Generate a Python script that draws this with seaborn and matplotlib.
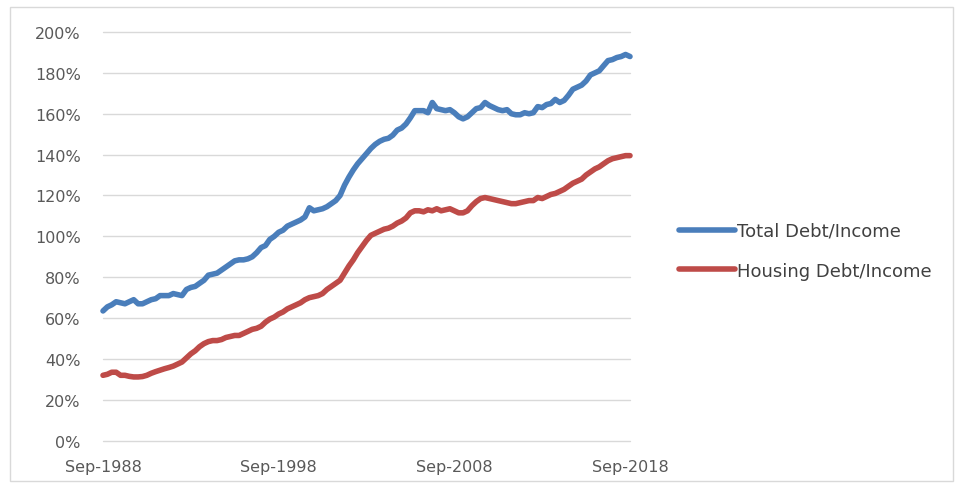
import matplotlib
matplotlib.use("Agg")
import matplotlib.pyplot as plt
from matplotlib.patches import Rectangle
import seaborn as sns
import pandas as pd

# Quarterly ratios, Sep-1988 .. Sep-2018 (percent of income)
total_debt = [
    63.5, 65.5, 66.5, 68,
    67.5, 67, 68, 69,
    67, 67, 68, 69,
    69.5, 71, 71, 71,
    72, 71.5, 71, 74,
    75, 75.5, 77, 78.5,
    81, 81.5, 82, 83.5,
    85, 86.5, 88, 88.5,
    88.5, 89, 90, 92,
    94.5, 95.5, 98.5, 100,
    102, 103, 105, 106,
    107, 108, 109.5, 114,
    112.5, 113, 113.5, 114.5,
    116, 117.5, 120, 125,
    129, 132.5, 135.5, 138,
    140.5, 143, 145, 146.5,
    147.5, 148, 149.5, 152,
    153, 155, 158, 161.5,
    161.5, 161.5, 160.5, 165.5,
    162.5, 162, 161.5, 162,
    160.5, 158.5, 157.5, 158.5,
    160.5, 162.5, 163, 165.5,
    164, 163, 162, 161.5,
    162, 160, 159.5, 159.5,
    160.5, 160, 160.5, 163.5,
    163, 164.5, 165, 167,
    165.5, 166.5, 169, 172,
    173, 174, 176, 179,
    180, 181, 183.5, 186,
    186.5, 187.5, 188, 189,
    188,
]
housing_debt = [
    32, 32.5, 33.5, 33.5,
    32, 32, 31.5, 31.2,
    31.2, 31.4, 32, 33,
    33.8, 34.5, 35.2, 35.8,
    36.5, 37.5, 38.5, 40.5,
    42.5, 44, 46, 47.5,
    48.5, 49, 49, 49.5,
    50.5, 51, 51.5, 51.5,
    52.5, 53.5, 54.5, 55,
    56, 58, 59.5, 60.5,
    62, 63, 64.5, 65.5,
    66.5, 67.5, 69, 70,
    70.5, 71, 72, 74,
    75.5, 77, 78.5, 82,
    85.5, 88.5, 92, 95,
    98, 100.5, 101.5, 102.5,
    103.5, 104, 105, 106.5,
    107.5, 109, 111.5, 112.5,
    112.5, 112, 113, 112.5,
    113.5, 112.5, 113, 113.5,
    112.5, 111.5, 111.5, 112.5,
    115, 117, 118.5, 119,
    118.5, 118, 117.5, 117,
    116.5, 116, 116, 116.5,
    117, 117.5, 117.5, 119,
    118.5, 119.5, 120.5, 121,
    122, 123, 124.5, 126,
    127, 128, 130, 131.5,
    133, 134, 135.5, 137,
    138, 138.5, 139, 139.5,
    139.5,
]
series_names = ["Total Debt/Income", "Housing Debt/Income"]
series_colors = ["#4A7EBB", "#BE4B48"]
x_tick_labels = ["Sep-1988", "Sep-1998", "Sep-2008", "Sep-2018"]
y_ticks = [0, 20, 40, 60, 80, 100, 120, 140, 160, 180, 200]

dates = pd.date_range(start="1988-09-01", periods=len(total_debt), freq="3MS")
df = pd.concat([
    pd.DataFrame({"date": dates, "value": total_debt, "series": series_names[0]}),
    pd.DataFrame({"date": dates, "value": housing_debt, "series": series_names[1]}),
])

sns.set_style("white")
plt.rcParams["font.family"] = ["DejaVu Sans"]

fig = plt.figure(figsize=(9.59, 4.89), dpi=100)
ax = fig.add_axes([103 / 959, 1 - 441.7 / 489, (630 - 103) / 959, (441.7 - 33) / 489])

sns.lineplot(data=df, x="date", y="value", hue="series", hue_order=series_names,
             palette=series_colors, linewidth=4.0, ax=ax, legend=False,
             solid_capstyle="round", zorder=3)
for ln in ax.get_lines():
    ln.set_clip_on(False)

ax.set_ylim(0, 200)
ax.set_xlim(dates[0], dates[-1])
ax.set_yticks(y_ticks)
ax.set_yticklabels([f"{v}%" for v in y_ticks])
tick_dates = pd.to_datetime(["1988-09-01", "1998-09-01", "2008-09-01", "2018-09-01"])
ax.set_xticks(tick_dates)
ax.set_xticklabels(x_tick_labels)
ax.set_xlabel("")
ax.set_ylabel("")
ax.grid(axis="y", color="#D9D9D9", linewidth=1.0)
ax.grid(axis="x", visible=False)
for gl in ax.get_ygridlines():
    gl.set_clip_on(False)
ax.set_axisbelow(True)
for s in ax.spines.values():
    s.set_visible(False)
ax.tick_params(axis="y", length=0, pad=16, labelsize=11.5, labelcolor="#595959")
ax.tick_params(axis="x", length=0, pad=13, labelsize=11.5, labelcolor="#595959")

handles = [plt.Line2D([], [], color=c, linewidth=4.0) for c in series_colors]
fig.legend(handles, series_names, loc="center left",
           bbox_to_anchor=(670 / 959, 1 - 251.7 / 489), frameon=False,
           borderpad=0, handlelength=3.1, handletextpad=0.1, labelspacing=1.2,
           prop={"size": 13}, labelcolor="#404040")

fig.patches.append(Rectangle((10 / 959, 1 - 482 / 489), 943 / 959, 474 / 489,
                             transform=fig.transFigure, fill=False,
                             edgecolor="#D9D9D9", linewidth=1.0))

fig.savefig("out.png", dpi=100)
